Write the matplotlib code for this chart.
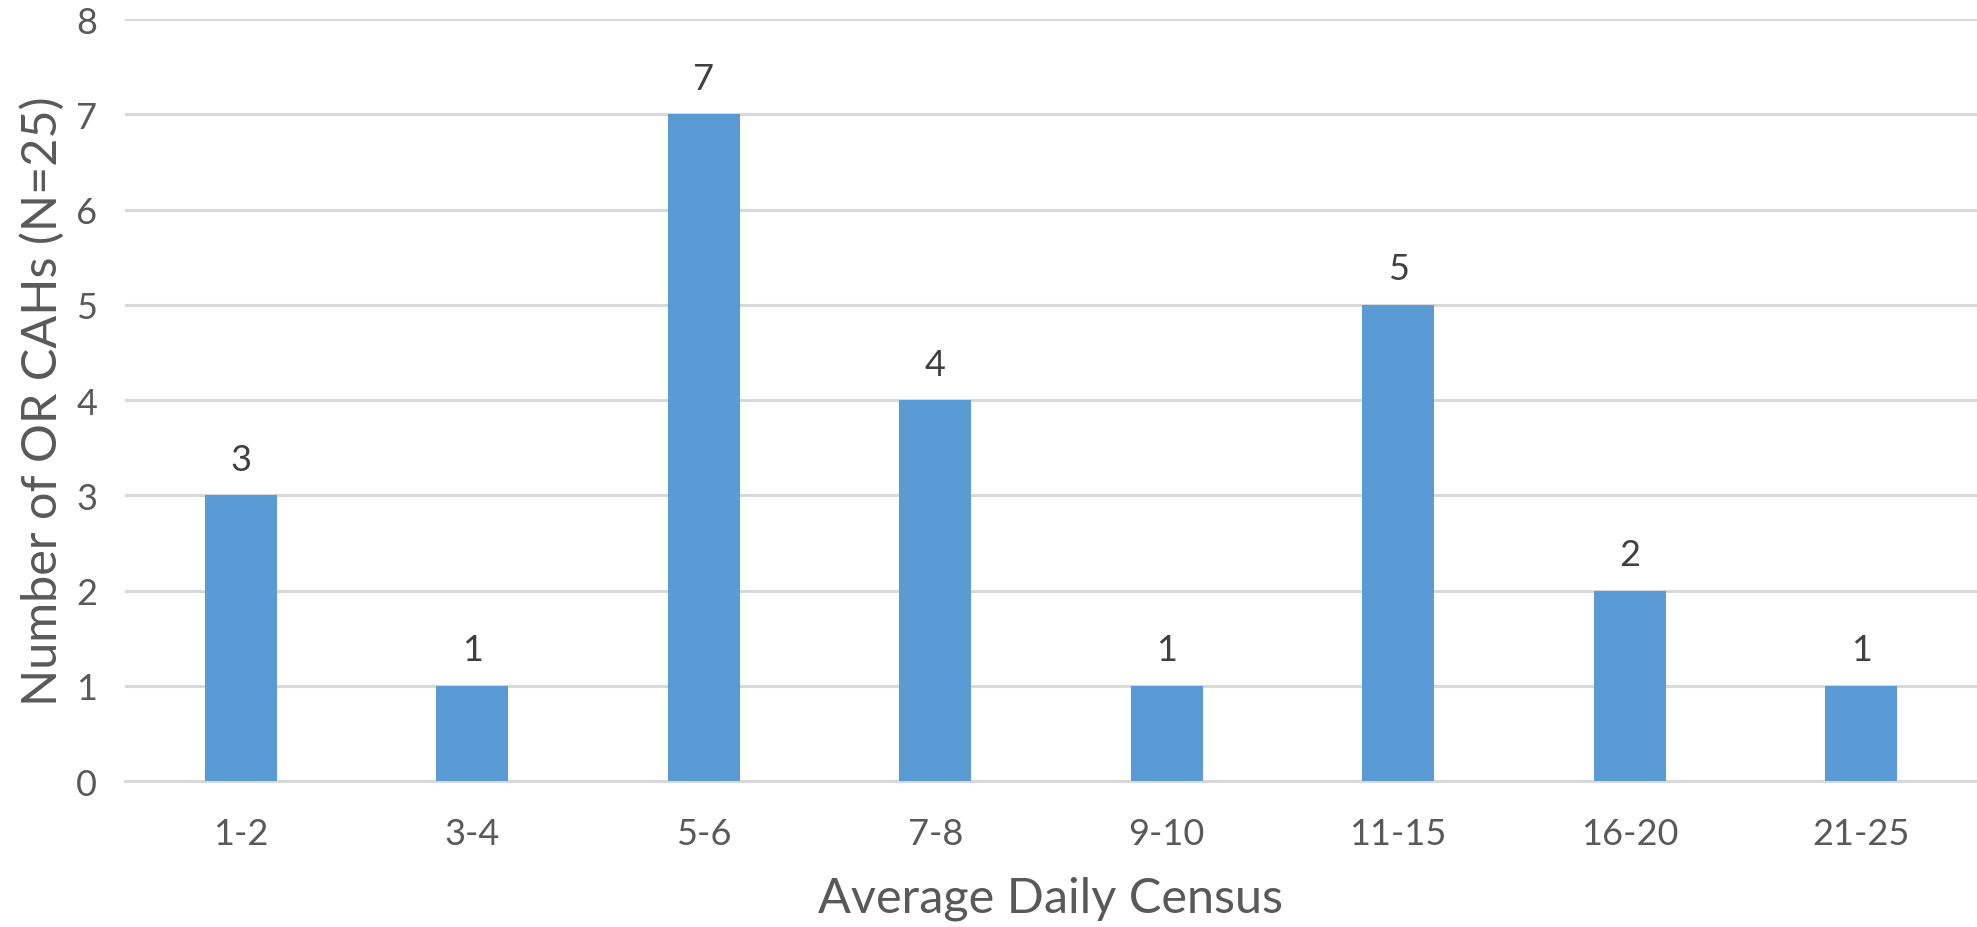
import matplotlib.pyplot as plt
import numpy as np

# 数据：平均每日住院人数分组 → CAH 数量
census_groups = ["1-2", "3-4", "5-6", "7-8", "9-10", "11-15", "16-20", "21-25"]
cah_counts = [3, 1, 7, 4, 1, 5, 2, 1]
y_ticks = [0, 1, 2, 3, 4, 5, 6, 7, 8]

plt.rcParams["font.family"] = ["Lato", "DejaVu Sans"]

fig = plt.figure(figsize=(19.77, 9.28), dpi=100)
ax = fig.add_axes([0.0632, 0.1573, 0.9368, 0.8211])

x = np.arange(len(census_groups))
bars = ax.bar(x, cah_counts, width=0.31, color="#5B9BD5", zorder=3)

# 柱顶数值标签
for rect, val in zip(bars, cah_counts):
    ax.annotate(
        f"{val}",
        (rect.get_x() + rect.get_width() / 2, rect.get_height()),
        xytext=(0, 14),
        textcoords="offset points",
        ha="center",
        va="bottom",
        fontsize=26,
        color="#404040",
    )

ax.set_xlim(-0.5, len(census_groups) - 0.5)
ax.set_ylim(0, 8)
ax.set_yticks(y_ticks)
ax.set_xticks(x)
ax.set_xticklabels(census_groups)

ax.grid(axis="y", color="#D9D9D9", linewidth=2.2, zorder=0)
ax.set_axisbelow(True)
for side in ["top", "right", "left"]:
    ax.spines[side].set_visible(False)
ax.spines["bottom"].set_color("#D9D9D9")
ax.spines["bottom"].set_linewidth(2.2)

ax.tick_params(axis="both", length=0, labelsize=26, labelcolor="#595959")
ax.tick_params(axis="y", pad=20)
ax.tick_params(axis="x", pad=26)

ax.set_xlabel("Average Daily Census", fontsize=35, color="#595959", labelpad=18)
ax.set_ylabel("Number of OR CAHs (N=25)", fontsize=35, color="#595959", labelpad=8)

fig.savefig("out.png", dpi=100)
